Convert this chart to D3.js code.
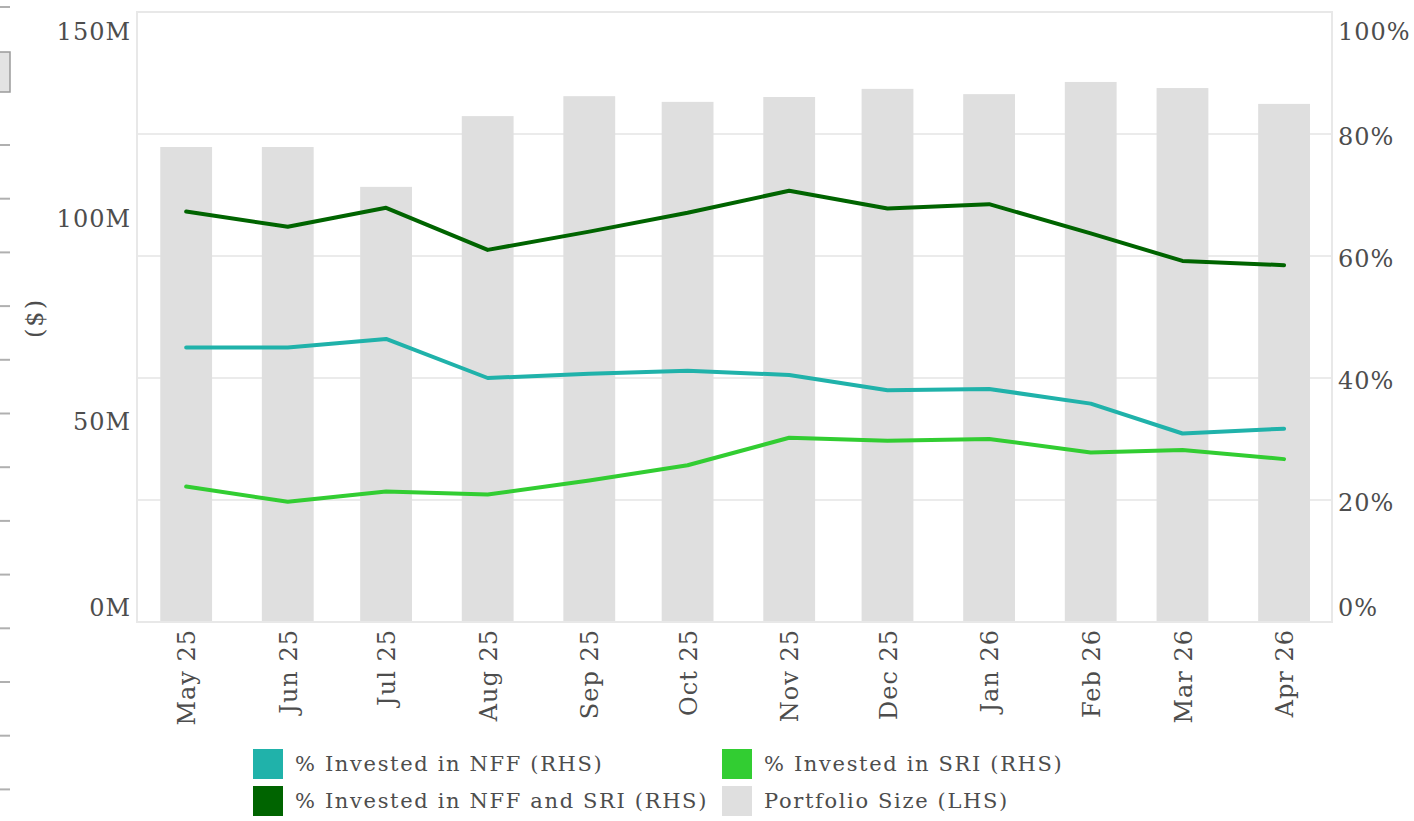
<!DOCTYPE html>
<html lang="en">
<head>
    <meta charset="UTF-8">
    <title>Portfolio Size and % Invested</title>
    <script src="https://d3js.org/d3.v7.min.js"></script>
    <style>
        body { margin: 0; background: #fff; }
        svg { display: block; }
        text { font-family: "DejaVu Serif", serif; fill: #4d4d4d; }
        .axis text { font-size: 24px; letter-spacing: 1px; }
        .legend text { font-size: 21px; letter-spacing: 1.65px; }
    </style>
</head>
<body>
    <div id="chart"></div>
    <script>
        // month labels and dates (1st of each month)
        const months = ["May 25", "Jun 25", "Jul 25", "Aug 25", "Sep 25", "Oct 25",
                        "Nov 25", "Dec 25", "Jan 26", "Feb 26", "Mar 26", "Apr 26"];
        const monthDates = [
            new Date(2025, 4, 1), new Date(2025, 5, 1), new Date(2025, 6, 1), new Date(2025, 7, 1),
            new Date(2025, 8, 1), new Date(2025, 9, 1), new Date(2025, 10, 1), new Date(2025, 11, 1),
            new Date(2026, 0, 1), new Date(2026, 1, 1), new Date(2026, 2, 1), new Date(2026, 3, 1)
        ];

        // portfolio size in $ (LHS)
        const portfolioSize = [116.8e6, 116.8e6, 107.0e6, 124.4e6, 129.3e6, 127.9e6,
                               129.1e6, 131.1e6, 129.8e6, 132.8e6, 131.3e6, 127.4e6];
        // % invested (RHS)
        const pctNFF    = [45.0, 45.0, 46.4, 40.0, 40.7, 41.2, 40.5, 38.0, 38.2, 35.8, 30.9, 31.7];
        const pctSRI    = [22.2, 19.7, 21.4, 20.9, 23.2, 25.7, 30.2, 29.7, 30.0, 27.8, 28.2, 26.7];
        const pctNFFSRI = [67.3, 64.8, 67.9, 61.0, 64.0, 67.1, 70.7, 67.8, 68.5, 63.7, 59.2, 58.5];

        const leftTicks = [0, 50e6, 100e6, 150e6];
        const rightTicks = [0, 20, 40, 60, 80, 100];

        const legendItems = [
            { label: "% Invested in NFF (RHS)", color: "#20B2AA" },
            { label: "% Invested in SRI (RHS)", color: "#32CD32" },
            { label: "% Invested in NFF and SRI (RHS)", color: "#006400" },
            { label: "Portfolio Size (LHS)", color: "#dfdfdf" }
        ];

        const width = 1414, height = 821;
        const panel = { left: 137, right: 1332, top: 12, bottom: 622 };

        const svg = d3.select("#chart").append("svg")
            .attr("width", width)
            .attr("height", height);

        // stray page marks along the left edge
        const edge = svg.append("g");
        edge.append("rect")
            .attr("x", -1).attr("y", 52).attr("width", 11).attr("height", 40)
            .attr("fill", "#e3e3e3").attr("stroke", "#9a9a9a").attr("stroke-width", 1.5);
        edge.selectAll("line")
            .data([7].concat(d3.range(145, height, 53.7)))
            .join("line")
            .attr("x1", 0).attr("x2", 10)
            .attr("y1", d => d).attr("y2", d => d)
            .attr("stroke", "#b0b0b0").attr("stroke-width", 2);

        const x = d3.scaleTime()
            .domain([new Date(2025, 3, 16), new Date(2026, 3, 15, 15)])
            .range([panel.left, panel.right]);
        const yL = d3.scaleLinear().domain([0, 150e6]).range([panel.bottom, panel.top]);
        const yR = d3.scaleLinear().domain([0, 100]).range([panel.bottom, panel.top]);

        // gridlines (follow RHS)
        svg.append("g")
            .selectAll("line")
            .data(rightTicks.filter(t => t > 0 && t < 100))
            .join("line")
            .attr("x1", panel.left).attr("x2", panel.right)
            .attr("y1", d => yR(d)).attr("y2", d => yR(d))
            .attr("stroke", "#ebebeb").attr("stroke-width", 2);

        // bars
        const barW = (x(monthDates[1]) - x(monthDates[0])) * 0.51;
        svg.append("g")
            .selectAll("rect")
            .data(portfolioSize)
            .join("rect")
            .attr("x", (d, i) => x(monthDates[i]) - barW / 2)
            .attr("y", d => yL(d))
            .attr("width", barW)
            .attr("height", d => yL(0) - yL(d))
            .attr("fill", "#dfdfdf");

        // panel border
        svg.append("rect")
            .attr("x", panel.left).attr("y", panel.top)
            .attr("width", panel.right - panel.left)
            .attr("height", panel.bottom - panel.top)
            .attr("fill", "none")
            .attr("stroke", "#e8e8e8").attr("stroke-width", 2);

        // lines
        const line = d3.line()
            .x((d, i) => x(monthDates[i]))
            .y(d => yR(d));
        [[pctNFFSRI, "#006400"], [pctNFF, "#20B2AA"], [pctSRI, "#32CD32"]].forEach(([vals, col]) => {
            svg.append("path")
                .datum(vals)
                .attr("fill", "none")
                .attr("stroke", col)
                .attr("stroke-width", 4)
                .attr("stroke-linecap", "round")
                .attr("stroke-linejoin", "round")
                .attr("d", line);
        });

        // label nudges: end labels are pulled inside the panel
        const nudge = (d, max) => d === max ? 20 : d === 0 ? -14 : 3;

        // left axis
        const gL = svg.append("g")
            .attr("class", "axis")
            .attr("transform", `translate(${panel.left},0)`)
            .call(d3.axisLeft(yL).tickValues(leftTicks)
                .tickFormat(d => (d / 1e6) + "M").tickSize(0).tickPadding(6));
        gL.select(".domain").remove();
        gL.selectAll("text").attr("y", d => nudge(d, 150e6)).attr("fill", "#4d4d4d");

        // right axis
        const gR = svg.append("g")
            .attr("class", "axis")
            .attr("transform", `translate(${panel.right},0)`)
            .call(d3.axisRight(yR).tickValues(rightTicks)
                .tickFormat(d => d + "%").tickSize(0).tickPadding(6));
        gR.select(".domain").remove();
        gR.selectAll("text").attr("y", d => nudge(d, 100)).attr("fill", "#4d4d4d");

        // bottom axis, rotated labels
        const gB = svg.append("g")
            .attr("class", "axis")
            .attr("transform", `translate(0,${panel.bottom})`)
            .call(d3.axisBottom(x).tickValues(monthDates)
                .tickFormat((d, i) => months[i]).tickSize(0));
        gB.select(".domain").remove();
        gB.selectAll("text")
            .attr("transform", "rotate(-90)")
            .attr("x", -7)
            .attr("y", 0)
            .attr("dy", "0.36em")
            .attr("fill", "#4d4d4d")
            .style("text-anchor", "end");

        // y axis title
        svg.append("text")
            .attr("transform", "translate(35,318) rotate(-90)")
            .attr("text-anchor", "middle")
            .attr("dy", "0.35em")
            .style("font-size", "24px")
            .style("letter-spacing", "2px")
            .text("($)");

        // legend
        const legend = svg.append("g").attr("class", "legend");
        const colX = [253, 722], rowY = [749, 786];
        legendItems.forEach((item, i) => {
            const g = legend.append("g")
                .attr("transform", `translate(${colX[i % 2]},${rowY[Math.floor(i / 2)]})`);
            g.append("rect")
                .attr("width", 30).attr("height", 30)
                .attr("fill", item.color);
            g.append("text")
                .attr("x", 42).attr("y", 14)
                .attr("dy", "0.36em")
                .text(item.label);
        });
    </script>
</body>
</html>
